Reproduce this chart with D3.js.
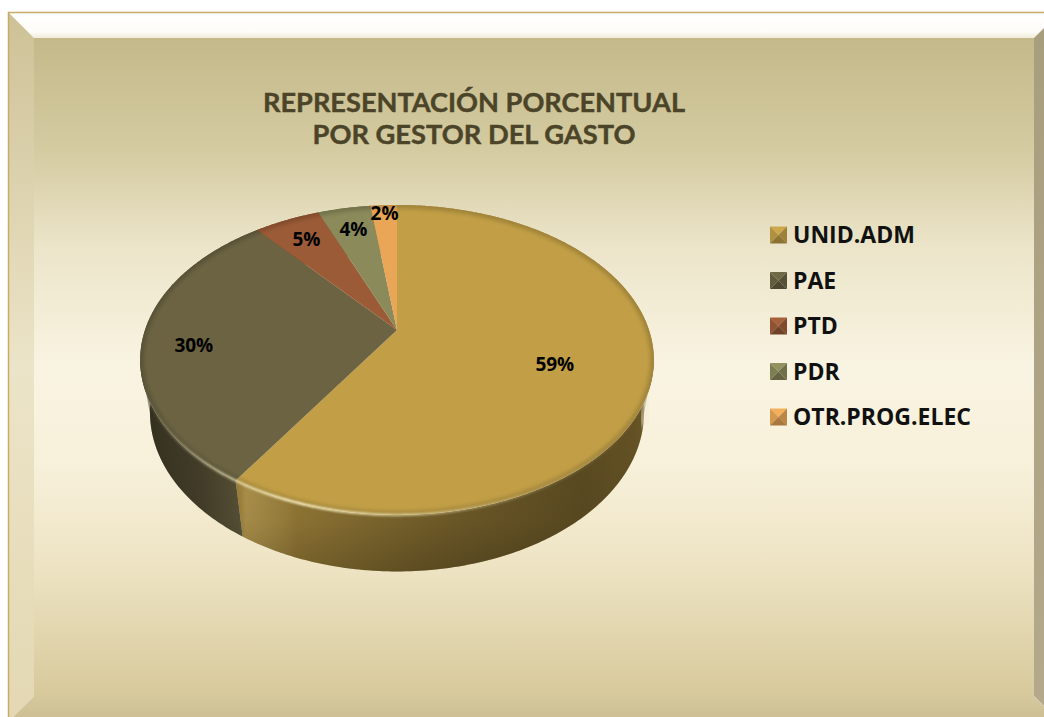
<!DOCTYPE html>
<html>
<head>
<meta charset="utf-8">
<script src="https://cdn.jsdelivr.net/npm/d3@7"></script>
<style>
  html, body { margin: 0; padding: 0; background: #fff; }
  svg { display: block; }
</style>
</head>
<body>
<svg id="chart"></svg>
<script>
// data
const categories = ["UNID.ADM", "PAE", "PTD", "PDR", "OTR.PROG.ELEC"];
const percents = [59, 30, 5, 4, 2];
const labels = ["59%", "30%", "5%", "4%", "2%"];
const colors = ["#c29f46", "#6b6342", "#9c5b37", "#8a8a5b", "#e8a656"];
const titleLines = ["REPRESENTACIÓN PORCENTUAL", "POR GESTOR DEL GASTO"];

const width = 1044, height = 717;
const font = "'Open Sans', Lato, sans-serif";

const svg = d3.select('#chart')
  .attr('width', width)
  .attr('height', height);
const defs = svg.append('defs');

function linGrad(id, x1, y1, x2, y2, stops, units) {
  const g = defs.append('linearGradient').attr('id', id)
    .attr('x1', x1).attr('y1', y1).attr('x2', x2).attr('y2', y2);
  if (units) g.attr('gradientUnits', units);
  stops.forEach(s => g.append('stop').attr('offset', s[0]).attr('stop-color', s[1])
    .attr('stop-opacity', s[2] == undefined ? 1 : s[2]));
  return 'url(#' + id + ')';
}

// ---- beveled frame ----
const fx0 = 8, fy0 = 12, fx1 = 1060, fy1 = 722, bw = 26;
const ix0 = fx0 + bw, iy0 = fy0 + bw, ix1 = fx1 - bw, iy1 = fy1 - bw;

const innerFill = linGrad('inner', 0, 0, 0, 1, [
  [0, '#c4b98a'], [0.17, '#d4cba1'], [0.32, '#ece5ca'], [0.5, '#f9f4e2'],
  [0.65, '#f7f0da'], [0.8, '#eee4c4'], [1, '#d7c99b']]);
const topFill = linGrad('bevTop', 0, 0, 0, 1, [[0, '#ffffff'], [0.75, '#fdfcf8'], [1, '#f1ecda']]);
const leftFill = linGrad('bevLeft', 0, 0, 0, 1, [[0, '#cdc196'], [0.5, '#ece4c8'], [1, '#e3d8b2']]);
const rightFill = linGrad('bevRight', 0, 0, 0, 1, [[0, '#a79e7e'], [1, '#b4aa8b']]);
const bottomFill = linGrad('bevBottom', 0, 0, 0, 1, [[0, '#d6c99e'], [1, '#cbbd91']]);

const frame = svg.append('g');
frame.append('rect').attr('x', ix0).attr('y', iy0)
  .attr('width', ix1 - ix0).attr('height', iy1 - iy0).attr('fill', innerFill);
const poly = pts => 'M' + pts.map(p => p.join(',')).join('L') + 'Z';
frame.append('path').attr('d', poly([[fx0, fy0], [fx1, fy0], [ix1, iy0], [ix0, iy0]])).attr('fill', topFill);
frame.append('path').attr('d', poly([[fx0, fy0], [ix0, iy0], [ix0, iy1], [fx0, fy1]])).attr('fill', leftFill);
frame.append('path').attr('d', poly([[fx1, fy0], [ix1, iy0], [ix1, iy1], [fx1, fy1]])).attr('fill', rightFill);
frame.append('path').attr('d', poly([[fx0, fy1], [ix0, iy1], [ix1, iy1], [fx1, fy1]])).attr('fill', bottomFill);
frame.append('path').attr('d', `M${fx0 + 0.5},${fy1}V${fy0 + 0.5}H${width}`)
  .attr('fill', 'none').attr('stroke', '#c9ab68').attr('stroke-width', 1.5);

// ---- title ----
const titleWidths = [422, 323];
const title = svg.append('g')
  .attr('font-family', "Lato, 'Open Sans', sans-serif").attr('font-weight', 'bold')
  .attr('font-size', 26).attr('fill', '#4b4428').attr('text-anchor', 'middle');
titleLines.forEach((t, i) => {
  title.append('text').attr('x', 474).attr('y', 112 + i * 32)
    .attr('textLength', titleWidths[i]).attr('lengthAdjust', 'spacingAndGlyphs')
    .attr('stroke', '#4b4428').attr('stroke-width', 0.4)
    .text(t);
});

// ---- 3D pie ----
const cx = 397, cy = 330, rs = 252;
const sinP = 0.592, cosP = 0.806, dist = 4.17, depth = 0.27;

function project(theta, r, h) {
  const X = r * Math.sin(theta), Z = r * Math.cos(theta);
  const w = 1 + (Z * cosP - h * sinP) / dist;
  return [cx + rs * X / w, cy - rs * (Z * sinP + h * cosP) / w];
}
function rim(a0, a1, h) {
  const n = Math.max(4, Math.ceil((a1 - a0) / 0.01));
  return d3.range(n + 1).map(i => project(a0 + (a1 - a0) * i / n, 1, h));
}
const line = d3.line();

const pie = d3.pie().sort(null).value(d => d);
const arcs = pie(percents);

const pieG = svg.append('g');

// side walls
const walls = pieG.append('g');
arcs.forEach((d, i) => {
  const top = rim(d.startAngle, d.endAngle, 0);
  const bot = rim(d.startAngle, d.endAngle, -depth).reverse();
  const base = d3.color(colors[i]).darker(0.45);
  walls.append('path').attr('d', line(top.concat(bot)) + 'Z')
    .attr('fill', base.formatHex());
});
// shading over the whole front wall
const q = 0.1935;
const vis0 = Math.acos(-q), vis1 = 2 * Math.PI - Math.acos(-q);
const wallAll = line(rim(vis0, vis1, 0).concat(rim(vis0, vis1, -depth).reverse())) + 'Z';
const shadeH = linGrad('shadeH', 142, 0, 660, 0, [
  [0, '#000', 0.45], [0.12, '#000', 0.25], [0.185, '#000', 0.05], [0.2, '#fff', 0.08],
  [0.3, '#000', 0.12], [0.55, '#000', 0.3], [0.85, '#000', 0.45], [0.95, '#000', 0.4],
  [1, '#000', 0.3]], 'userSpaceOnUse');
walls.append('path').attr('d', wallAll).attr('fill', shadeH);
const shadeV = linGrad('shadeV', 0, 440, 0, 575, [
  [0, '#000', 0], [0.6, '#000', 0.05], [1, '#000', 0.22]], 'userSpaceOnUse');
walls.append('path').attr('d', wallAll).attr('fill', shadeV);
// small glint on the right of the wall
const glint = d3.range(0, 1.01, 0.1).map(t => project(1.75 + t * 0.22, 1, -depth * 0.6));
defs.append('filter').attr('id', 'blur3').append('feGaussianBlur').attr('stdDeviation', 3);
walls.append('path').attr('d', line(glint)).attr('fill', 'none')
  .attr('stroke', '#f4ecd0').attr('stroke-opacity', 0.6).attr('stroke-width', 9)
  .attr('filter', 'url(#blur3)');

// top faces
const apex = project(0, 0, 0);
const tops = pieG.append('g');
arcs.forEach((d, i) => {
  tops.append('path')
    .attr('d', line([apex].concat(rim(d.startAngle, d.endAngle, 0))) + 'Z')
    .attr('fill', colors[i]);
});
// soft bevel at the rim of the top face
const topAll = line(rim(0, 2 * Math.PI, 0)) + 'Z';
defs.append('clipPath').attr('id', 'topClip').append('path').attr('d', topAll);
defs.append('filter').attr('id', 'blur2').append('feGaussianBlur').attr('stdDeviation', 2);
defs.append('filter').attr('id', 'blur1').append('feGaussianBlur').attr('stdDeviation', 0.8);
tops.append('path').attr('d', topAll).attr('fill', 'none')
  .attr('stroke', '#000').attr('stroke-opacity', 0.18).attr('stroke-width', 7)
  .attr('clip-path', 'url(#topClip)').attr('filter', 'url(#blur2)');
// highlight along the front rim
const hiGrad = linGrad('hiGrad', 142, 0, 660, 0, [
  [0, '#fff6c8', 0], [0.12, '#fff6c8', 0.5], [0.3, '#fff6c8', 0.95],
  [0.5, '#fff6c8', 0.6], [0.75, '#fff6c8', 0.2], [1, '#fff6c8', 0]], 'userSpaceOnUse');
pieG.append('path').attr('d', line(rim(1.9, 4.55, 0)))
  .attr('fill', 'none').attr('stroke', hiGrad).attr('stroke-width', 2.5)
  .attr('filter', 'url(#blur1)');

// data labels
const labelR = d => d.value < 3 ? 0.93 : d.value > 50 ? 0.63 : 0.8;
pieG.append('g')
  .attr('font-family', font).attr('font-weight', 'bold').attr('font-size', 19)
  .attr('fill', '#000').attr('text-anchor', 'middle')
  .selectAll('text')
  .data(arcs)
  .enter()
  .append('text')
  .attr('x', d => project((d.startAngle + d.endAngle) / 2, labelR(d), 0)[0])
  .attr('y', d => project((d.startAngle + d.endAngle) / 2, labelR(d), 0)[1] + (d.value > 20 ? 14 : 7))
  .text((d, i) => labels[i]);

// ---- legend ----
const legend = svg.append('g').attr('transform', 'translate(770,235)');
const sw = 17;
const row = legend.selectAll('g')
  .data(categories)
  .enter()
  .append('g')
  .attr('transform', (d, i) => `translate(0,${i * 45.5})`);
row.each(function (d, i) {
  const g = d3.select(this);
  const c = d3.color(colors[i]);
  const h = sw / 2, m = [h, 0];
  const tris = [
    [[0, -h], [sw, -h], m, c.brighter(0.15)],
    [[0, -h], [0, h], m, c.darker(0.25)],
    [[sw, -h], [sw, h], m, c.darker(0.6)],
    [[0, h], [sw, h], m, c.darker(0.9)]
  ];
  tris.forEach(t => g.append('path').attr('d', poly([t[0], t[1], t[2]])).attr('fill', t[3].formatHex()));
});
row.append('text')
  .attr('x', 23).attr('y', 0).attr('dy', '0.36em')
  .attr('font-family', font).attr('font-weight', 'bold').attr('font-size', 23)
  .attr('fill', '#111')
  .text(d => d);
</script>
</body>
</html>
